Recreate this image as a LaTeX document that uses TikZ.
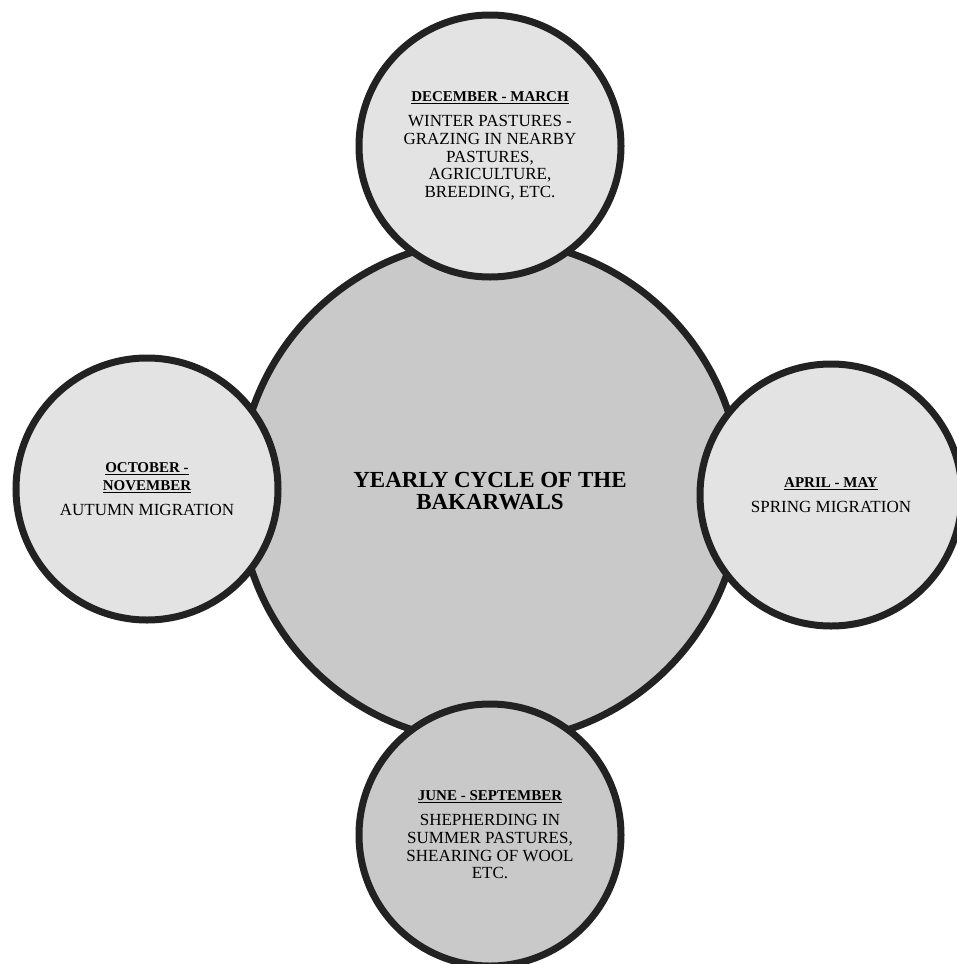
\documentclass[tikz,border=0pt]{standalone}
\usepackage{fontspec}
\setmainfont{Liberation Serif}
\definecolor{lightfill}{HTML}{E3E3E3}
\definecolor{darkfill}{HTML}{C9C9C9}
\definecolor{rim}{HTML}{222222}
\tikzset{
  season/.style={circle, draw=rim, line width=7pt, fill=lightfill, minimum size=262pt,
    inner sep=0pt, align=center, font=\fontsize{17}{17.7}\selectfont},
  hub/.style={season, fill=darkfill, minimum size=502pt,
    font=\bfseries\fontsize{23}{22}\selectfont}
}
\newcommand{\period}[1]{{\fontsize{15}{16}\selectfont\bfseries\underline{#1}}}
\begin{document}
\begin{tikzpicture}[x=1pt,y=-1pt]
\useasboundingbox (0,0) rectangle (957,964);
\clip (0,0) rectangle (957,964);

% middle
\node[hub] (cycle) at (490,491) {YEARLY CYCLE OF THE\\BAKARWALS};

% the four seasons
\node[season] (dec) at (490,146) {\period{DECEMBER - MARCH}\\[7pt]
  WINTER PASTURES -\\GRAZING IN NEARBY\\PASTURES,\\AGRICULTURE,\\BREEDING, ETC.};
\node[season] (apr) at (831,495) {\period{APRIL - MAY}\\[7pt]SPRING MIGRATION};
\node[season, fill=darkfill] (jun) at (490,835) {\period{JUNE - SEPTEMBER}\\[7pt]
  SHEPHERDING IN\\SUMMER PASTURES,\\SHEARING OF WOOL\\ETC.};
\node[season] (oct) at (147,489) {\period{OCTOBER -}\\\period{NOVEMBER}\\[7pt]AUTUMN MIGRATION};

\end{tikzpicture}
\end{document}
